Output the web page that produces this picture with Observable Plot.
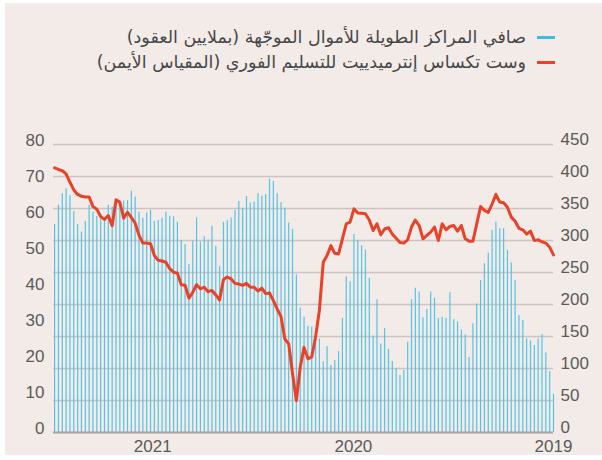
<!DOCTYPE html>
<html><head><meta charset="utf-8">
<script src="https://cdn.jsdelivr.net/npm/d3@7"></script>
<script src="https://cdn.jsdelivr.net/npm/@observablehq/plot@0.6"></script>
<style>
body{margin:0;background:#fff;width:602px;height:460px;overflow:hidden;position:relative}
#panel{position:absolute;left:5px;top:3px;width:597px;height:452px;background:#f2ebe8}
.leg{position:absolute;right:76px;direction:rtl;text-align:right;font-family:"DejaVu Sans",sans-serif;font-size:17.5px;color:#474747;white-space:nowrap;line-height:20px}
.sw{position:absolute;left:537px;width:18px;height:3px}
#chart{position:absolute;left:0;top:90px}
</style></head>
<body>
<div id="panel"></div>
<div class="leg" style="top:27px">صافي المراكز الطويلة للأموال الموجّهة (بملايين العقود)</div>
<div class="sw" style="top:36px;background:#3cbde6"></div>
<div class="leg" style="top:52px">وست تكساس إنترميدييت للتسليم الفوري (المقياس الأيمن)</div>
<div class="sw" style="top:61px;background:#ea4129"></div>
<div id="chart"></div>
<script>
// weekly observations, newest first (first = 2021-06-29, last = 2019-01-01)
const newestWeek = "2021-06-29";
const netLongs = [
57.8, 63.1, 66.3, 67.7, 65.8, 61.4, 57.8, 55.7, 58.6, 63.1,
61.2, 60.0, 59.4, 59.3, 63.1, 62.6, 63.7, 63.5, 64.3, 64.4,
67.0, 65.4, 61.2, 59.5, 61.0, 61.7, 58.6, 58.9, 59.5, 61.2,
60.1, 59.9, 58.4, 53.3, 52.2, 46.7, 53.1, 59.6, 52.9, 54.4,
53.5, 57.3, 51.7, 46.1, 58.4, 58.9, 59.6, 61.7, 64.2, 62.3,
65.6, 63.7, 64.0, 66.4, 65.6, 66.1, 70.4, 69.8, 66.3, 63.8,
62.3, 58.2, 56.4, 43.8, 34.6, 32.0, 29.5, 29.3, 27.0, 26.0,
19.6, 23.9, 18.6, 20.0, 22.5, 31.7, 43.2, 41.9, 55.0, 53.3,
51.9, 50.7, 42.8, 26.8, 36.9, 24.6, 28.9, 23.1, 19.7, 17.7,
15.8, 17.2, 25.1, 36.9, 40.1, 39.0, 31.9, 34.2, 39.0, 37.3,
31.7, 32.0, 31.7, 38.8, 31.3, 30.7, 28.5, 27.1, 20.8, 30.2,
35.7, 42.2, 46.9, 49.8, 56.1, 58.4, 56.6, 56.6, 50.6, 47.1,
42.2, 32.5, 31.1, 26.0, 25.4, 24.2, 26.0, 27.2, 22.1, 16.9,
10.6];
const wti = [
413.5, 411, 409, 404, 391, 379, 372, 369, 368, 368,
353, 349, 337.5, 333, 339, 323, 363.5, 360, 335, 344,
336, 327, 308, 296, 296, 295, 276.5, 269, 268, 266,
256, 250.5, 249, 231, 230, 210, 219, 231, 224.5, 227,
220, 222, 215, 207, 239, 243, 240, 233, 232, 230,
233, 227, 227, 221, 225.5, 217, 218, 206, 193, 181,
146, 138.5, 92, 50, 102, 133, 115, 118, 149, 191,
266, 276.5, 292, 280, 279, 302.6, 326, 328.6, 349.5, 343,
342.7, 341.7, 332, 315.6, 326, 309, 318, 320, 310, 303.6,
297, 296, 301, 321, 332, 323.4, 302.6, 308, 313, 321,
300, 326, 316.7, 322, 323.4, 314.6, 323.4, 302.6, 299, 299,
326, 353, 347, 344, 357, 372, 360, 359, 352, 336.5,
330, 319, 316.7, 310, 314.6, 300, 301, 298, 296, 289.6,
277.6];
const leftTicks = [0, 10, 20, 30, 40, 50, 60, 70, 80];
const rightTicks = [0, 50, 100, 150, 200, 250, 300, 350, 400, 450];
const yearTicks = ["2019-01-01", "2020-01-01", "2021-01-01"];
const xDomain = ["2019-01-01", "2021-07-01"];

const LEFT_MAX = 80, RIGHT_MAX = 450;
const toLeft = v => v * LEFT_MAX / RIGHT_MAX;
const start = new Date(newestWeek);
const data = netLongs.map((v, i) => ({
  date: d3.utcDay.offset(start, -7 * i),
  longs: v,
  wti: wti[i]
}));

const chart = Plot.plot({
  width: 602,
  height: 370,
  marginLeft: 53,
  marginRight: 49,
  marginTop: 54,
  marginBottom: 28,
  style: {background: "transparent", fontFamily: "'Liberation Sans Narrow', sans-serif", fontSize: "17px", color: "#5a5a5a"},
  x: {type: "utc", domain: xDomain.map(d => new Date(d)), reverse: true},
  y: {domain: [0, LEFT_MAX]},
  marks: [
    Plot.gridY(rightTicks.map(toLeft), {stroke: "#cdc4c1", strokeOpacity: 1, strokeWidth: 1.5}),
    Plot.ruleX(data, {x: "date", y: "longs", stroke: "#55c3e6", strokeWidth: 1.2}),
    Plot.ruleY([0], {stroke: "#aba5a3", strokeWidth: 2}),
    Plot.line(data, {x: "date", y: d => toLeft(d.wti), stroke: "#ea4129", strokeWidth: 3, strokeLinejoin: "round"}),
    Plot.axisY(leftTicks, {anchor: "left", tickSize: 0, tickPadding: 9, dy: -4, label: null}),
    Plot.axisY(rightTicks.map(toLeft), {anchor: "right", tickSize: 0, tickPadding: 7, dy: -5, label: null,
      tickFormat: d => String(Math.round(d * RIGHT_MAX / LEFT_MAX))}),
    Plot.axisX(yearTicks.map(d => new Date(d)), {tickSize: 0, tickPadding: 7, tickFormat: d3.utcFormat("%Y"), label: null})
  ]
});
document.getElementById("chart").appendChild(chart);
</script>
</body></html>
